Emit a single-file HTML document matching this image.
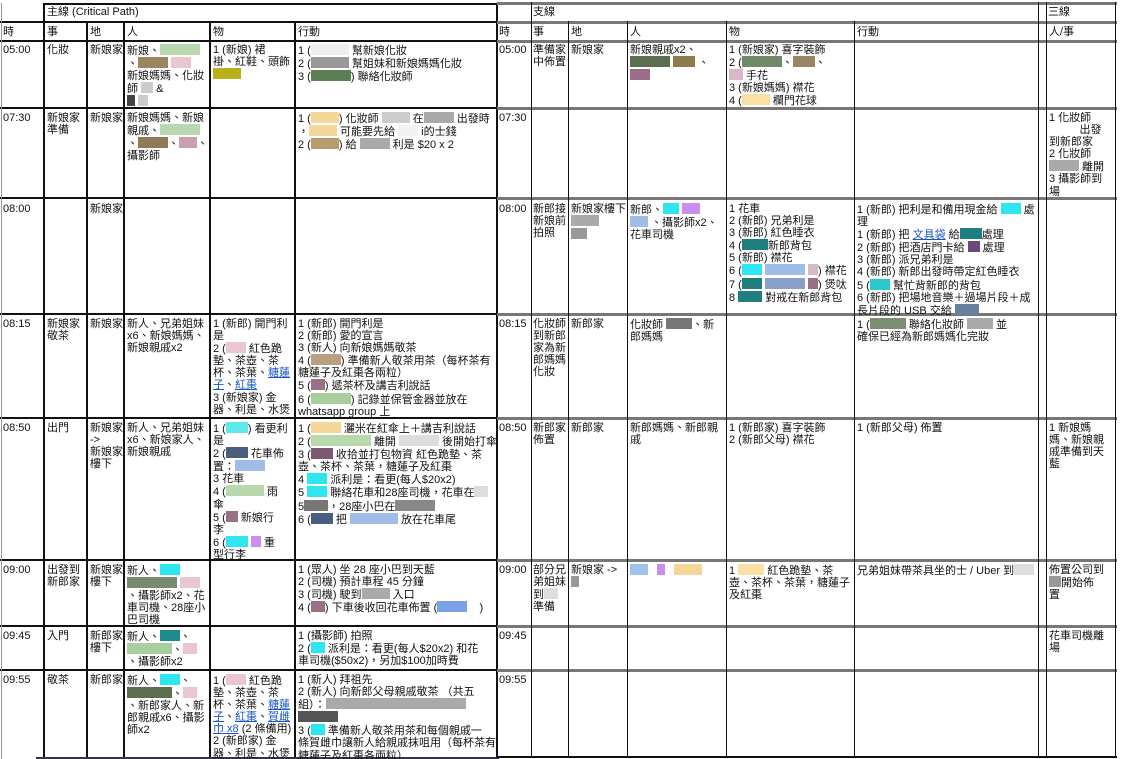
<!DOCTYPE html>
<html><head><meta charset="utf-8"><style>
body{margin:0;background:#fff;}
#p{position:relative;width:1124px;height:759px;overflow:hidden;font-family:"Liberation Sans","Noto Sans CJK TC",sans-serif;font-size:11px;line-height:12.1px;color:#111;}
.c{position:absolute;white-space:nowrap;overflow:hidden;}
.h{position:absolute;height:2px;background:#111;}
.hg{position:absolute;height:3px;background:#777;}
.v{position:absolute;width:2px;background:#111;}
.v1{position:absolute;width:1px;background:#111;}
.b{display:inline-block;height:11px;vertical-align:-1px;}
a{color:#1a56c8;text-decoration:underline;}
</style></head><body><div id="p">
<div class="h" style="left:44px;top:3px;width:455px"></div>
<div class="h" style="left:0;top:21px;width:499px"></div>
<div class="h" style="left:0;top:40px;width:499px"></div>
<div class="h" style="left:0;top:107px;width:499px"></div>
<div class="h" style="left:0;top:197px;width:499px"></div>
<div class="h" style="left:0;top:313px;width:499px"></div>
<div class="h" style="left:0;top:417px;width:499px"></div>
<div class="h" style="left:0;top:559px;width:499px"></div>
<div class="h" style="left:0;top:625px;width:499px"></div>
<div class="h" style="left:0;top:669px;width:499px"></div>
<div class="v1" style="left:1px;top:3px;height:756px;background:#999"></div>
<div class="v" style="left:43px;top:3px;height:756px"></div>
<div class="v" style="left:86px;top:21px;height:738px"></div>
<div class="v" style="left:123px;top:21px;height:738px"></div>
<div class="v" style="left:209px;top:21px;height:738px"></div>
<div class="v" style="left:294px;top:21px;height:738px"></div>
<div class="v" style="left:496px;top:3px;height:756px"></div>
<div class="h" style="left:36px;top:757px;width:463px;background:#334"></div>
<div class="hg" style="left:497px;top:2px;width:620px"></div>
<div class="hg" style="left:497px;top:21px;width:620px"></div>
<div class="hg" style="left:497px;top:40px;width:620px"></div>
<div class="hg" style="left:497px;top:107px;width:620px"></div>
<div class="hg" style="left:497px;top:197px;width:620px"></div>
<div class="hg" style="left:497px;top:313px;width:620px"></div>
<div class="hg" style="left:497px;top:417px;width:620px"></div>
<div class="hg" style="left:497px;top:559px;width:620px"></div>
<div class="hg" style="left:497px;top:625px;width:620px"></div>
<div class="hg" style="left:497px;top:669px;width:620px"></div>
<div class="h" style="left:497px;top:756px;width:620px"></div>
<div class="v1" style="left:531px;top:2px;height:755px"></div>
<div class="v1" style="left:568px;top:21px;height:736px"></div>
<div class="v1" style="left:627px;top:21px;height:736px"></div>
<div class="v1" style="left:726px;top:21px;height:736px"></div>
<div class="v1" style="left:854px;top:21px;height:736px"></div>
<div class="v1" style="left:1038px;top:2px;height:755px"></div>
<div class="v1" style="left:1046px;top:2px;height:755px"></div>
<div class="v1" style="left:1115px;top:2px;height:755px"></div>

<div class="c" style="left:47px;top:6px">主線 (Critical Path)</div>
<div class="c" style="left:3px;top:26px">時</div><div class="c" style="left:47px;top:26px">事</div><div class="c" style="left:90px;top:26px">地</div><div class="c" style="left:127px;top:26px">人</div><div class="c" style="left:213px;top:26px">物</div><div class="c" style="left:298px;top:26px">行動</div>
<div class="c" style="left:533px;top:6px">支線</div><div class="c" style="left:1048px;top:6px">三線</div>
<div class="c" style="left:499px;top:26px">時</div><div class="c" style="left:533px;top:26px">事</div><div class="c" style="left:571px;top:26px">地</div><div class="c" style="left:630px;top:26px">人</div><div class="c" style="left:729px;top:26px">物</div><div class="c" style="left:857px;top:26px">行動</div><div class="c" style="left:1049px;top:26px">人/事</div>

<div class="c" style="left:3px;top:44px">05:00</div>
<div class="c" style="left:47px;top:44px">化妝</div>
<div class="c" style="left:90px;top:44px">新娘家</div>
<div class="c" style="left:127px;top:44px">新娘、<span class="b" style="width:40px;background:#b9d8ad"></span><br>、<span class="b" style="width:30px;background:#9a8560"></span> <span class="b" style="width:20px;background:#eac6d3"></span><br>新娘媽媽、化妝<br>師 <span class="b" style="width:12px;background:#ccc"></span> &amp;<br><span class="b" style="width:8px;background:#444"></span> <span class="b" style="width:10px;background:#ccc"></span></div>
<div class="c" style="left:213px;top:44px">1 (新娘) 裙<br>褂、紅鞋、頭飾<br><span class="b" style="width:28px;background:#b7b21a"></span></div>
<div class="c" style="left:298px;top:44px">1 (<span class="b" style="width:38px;background:#eee"></span> 幫新娘化妝<br>2 (<span class="b" style="width:38px;background:#999"></span> 幫姐妹和新娘媽媽化妝<br>3 (<span class="b" style="width:40px;background:#5b7e55"></span>) 聯絡化妝師</div>

<div class="c" style="left:3px;top:112px">07:30</div>
<div class="c" style="left:47px;top:112px">新娘家<br>準備</div>
<div class="c" style="left:90px;top:112px">新娘家</div>
<div class="c" style="left:127px;top:112px">新娘媽媽、新娘<br>親戚、<span class="b" style="width:40px;background:#b9d8ad"></span><br>、<span class="b" style="width:30px;background:#8e7a58"></span>、<span class="b" style="width:18px;background:#c8a0b0"></span>、<br>攝影師</div>
<div class="c" style="left:298px;top:112px">1 (<span class="b" style="width:28px;background:#f5d79a"></span>) 化妝師 <span class="b" style="width:28px;background:#ccc"></span> 在<span class="b" style="width:30px;background:#aaa"></span> 出發時<br>，<span class="b" style="width:28px;background:#f5d79a"></span> 可能要先給 <span class="b" style="width:20px;background:#f3f3f3"></span> i的士錢<br>2 (<span class="b" style="width:28px;background:#b79d6d"></span>) 給 <span class="b" style="width:30px;background:#aaa"></span> 利是 $20 x 2</div>

<div class="c" style="left:3px;top:203px">08:00</div>
<div class="c" style="left:90px;top:203px">新娘家</div>

<div class="c" style="left:3px;top:318px">08:15</div>
<div class="c" style="left:47px;top:318px">新娘家<br>敬茶</div>
<div class="c" style="left:90px;top:318px">新娘家</div>
<div class="c" style="left:127px;top:318px">新人、兄弟姐妹<br>x6、新娘媽媽、<br>新娘親戚x2</div>
<div class="c" style="left:213px;top:318px">1 (新郎) 開門利<br>是<br>2 (<span class="b" style="width:20px;background:#eac6d3"></span> 紅色跪<br>墊、茶壺、茶<br>杯、茶葉、<a>糖蓮</a><br><a>子</a>、<a>紅棗</a><br>3 (新娘家) 金<br>器、利是、水煲</div>
<div class="c" style="left:298px;top:318px">1 (新郎) 開門利是<br>2 (新郎) 愛的宣言<br>3 (新人) 向新娘媽媽敬茶<br>4 (<span class="b" style="width:30px;background:#b8a080"></span>) 準備新人敬茶用茶（每杯茶有<br>糖蓮子及紅棗各兩粒）<br>5 (<span class="b" style="width:14px;background:#9a7088"></span>) 遞茶杯及講吉利說話<br>6 (<span class="b" style="width:40px;background:#a9cf9e"></span>) 記錄並保管金器並放在<br>whatsapp group 上</div>

<div class="c" style="left:3px;top:422px">08:50</div>
<div class="c" style="left:47px;top:422px">出門</div>
<div class="c" style="left:90px;top:422px">新娘家<br>-&gt;<br>新娘家<br>樓下</div>
<div class="c" style="left:127px;top:422px">新人、兄弟姐妹<br>x6、新娘家人、<br>新娘親戚</div>
<div class="c" style="left:213px;top:422px">1 (<span class="b" style="width:22px;background:#5ee8ee"></span>) 看更利<br>是<br>2 (<span class="b" style="width:22px;background:#4a5e80"></span> 花車佈<br>置：<span class="b" style="width:30px;background:#a0bde8"></span><br>3 花車<br>4 (<span class="b" style="width:38px;background:#b9d8ad"></span> 雨<br>傘<br>5 (<span class="b" style="width:12px;background:#9a7088"></span> 新娘行<br>李<br>6 (<span class="b" style="width:22px;background:#2ee6ef"></span> <span class="b" style="width:10px;background:#c98ef0"></span> 重<br>型行李</div>
<div class="c" style="left:298px;top:422px">1 (<span class="b" style="width:30px;background:#f5d79a"></span> 灑米在紅傘上＋講吉利說話<br>2 (<span class="b" style="width:60px;background:#b9d8ad"></span> 離開 <span class="b" style="width:40px;background:#ddd"></span> 後開始打傘<br>3 (<span class="b" style="width:22px;background:#7a5a70"></span> 收拾並打包物資 紅色跪墊、茶<br>壺、茶杯、茶葉，糖蓮子及紅棗<br>4 <span class="b" style="width:20px;background:#2ee6ef"></span> 派利是：看更(每人$20x2)<br>5 <span class="b" style="width:20px;background:#2ee6ef"></span> 聯絡花車和28座司機，花車在<span class="b" style="width:14px;background:#ddd"></span><br>5<span class="b" style="width:24px;background:#777"></span>，28座小巴在<span class="b" style="width:40px;background:#888"></span><br>6 (<span class="b" style="width:22px;background:#4a5e80"></span> 把 <span class="b" style="width:48px;background:#a0bde8"></span> 放在花車尾</div>

<div class="c" style="left:3px;top:564px">09:00</div>
<div class="c" style="left:47px;top:564px">出發到<br>新郎家</div>
<div class="c" style="left:90px;top:564px">新娘家<br>樓下</div>
<div class="c" style="left:127px;top:564px">新人、<span class="b" style="width:20px;background:#2ee6ef"></span><br><span class="b" style="width:50px;background:#7a8a6a"></span> <span class="b" style="width:20px;background:#eac6d3"></span><br>、攝影師x2、花<br>車司機、28座小<br>巴司機</div>
<div class="c" style="left:298px;top:564px">1 (眾人) 坐 28 座小巴到天藍<br>2 (司機) 預計車程 45 分鐘<br>3 (司機) 駛到<span class="b" style="width:28px;background:#aaa"></span> 入口<br>4 (<span class="b" style="width:14px;background:#9a7088"></span>) 下車後收回花車佈置 (<span class="b" style="width:30px;background:#7aa0e8"></span> &nbsp; &nbsp;)</div>

<div class="c" style="left:3px;top:630px">09:45</div>
<div class="c" style="left:47px;top:630px">入門</div>
<div class="c" style="left:90px;top:630px">新郎家<br>樓下</div>
<div class="c" style="left:127px;top:630px">新人、<span class="b" style="width:20px;background:#1f8c8c"></span>、<br><span class="b" style="width:45px;background:#a9cf9e"></span>、<span class="b" style="width:14px;background:#eac6d3"></span><br>、攝影師x2</div>
<div class="c" style="left:298px;top:630px">1 (攝影師) 拍照<br>2 (<span class="b" style="width:14px;background:#2ee6ef"></span> 派利是：看更(每人$20x2) 和花<br>車司機($50x2)，另加$100加時費</div>

<div class="c" style="left:3px;top:674px">09:55</div>
<div class="c" style="left:47px;top:674px">敬茶</div>
<div class="c" style="left:90px;top:674px">新郎家</div>
<div class="c" style="left:127px;top:674px">新人、<span class="b" style="width:20px;background:#2ee6ef"></span>、<br><span class="b" style="width:45px;background:#5b6e50"></span>、<span class="b" style="width:14px;background:#eac6d3"></span><br>、新郎家人、新<br>郎親戚x6、攝影<br>師x2</div>
<div class="c" style="left:213px;top:674px">1 (<span class="b" style="width:20px;background:#eac6d3"></span> 紅色跪<br>墊、茶壺、茶<br>杯、茶葉、<a>糖蓮</a><br><a>子</a>、<a>紅棗</a>、<a>賀雌</a><br><a>巾 x8</a> (2 條備用)<br>2 (新郎家) 金<br>器、利是、水煲</div>
<div class="c" style="left:298px;top:674px">1 (新人) 拜祖先<br>2 (新人) 向新郎父母親戚敬茶 （共五<br>組）：<span class="b" style="width:140px;background:#aaa"></span><br><span class="b" style="width:40px;background:#555"></span><br>3 (<span class="b" style="width:14px;background:#2ee6ef"></span> 準備新人敬茶用茶和每個親戚一<br>條賀雌巾讓新人給親戚抹咀用（每杯茶有<br>糖蓮子及紅棗各兩粒）</div>

<div class="c" style="left:499px;top:44px">05:00</div>
<div class="c" style="left:533px;top:44px">準備家<br>中佈置</div>
<div class="c" style="left:571px;top:44px">新娘家</div>
<div class="c" style="left:630px;top:44px">新娘親戚x2、<br><span class="b" style="width:40px;background:#5b6e50"></span> <span class="b" style="width:22px;background:#8e7a4a"></span> 、<br><span class="b" style="width:20px;background:#9a6e88"></span></div>
<div class="c" style="left:729px;top:44px">1 (新娘家) 喜字裝飾<br>2 (<span class="b" style="width:40px;background:#6e8a66"></span>、<span class="b" style="width:22px;background:#9a8560"></span>、<br><span class="b" style="width:14px;background:#d8b8c8"></span> 手花<br>3 (新娘媽媽) 襟花<br>4 (<span class="b" style="width:28px;background:#fbe0a6"></span> 欄門花球</div>

<div class="c" style="left:499px;top:112px">07:30</div>
<div class="c" style="left:1049px;top:112px">1 化妝師<br>&nbsp; &nbsp; &nbsp; &nbsp; &nbsp; 出發<br>到新郎家<br>2 化妝師<br><span class="b" style="width:30px;background:#aaa"></span> 離開<br>3 攝影師到<br>場</div>

<div class="c" style="left:499px;top:203px">08:00</div>
<div class="c" style="left:533px;top:203px">新郎接<br>新娘前<br>拍照</div>
<div class="c" style="left:571px;top:203px">新娘家樓下<br><span class="b" style="width:28px;background:#aaa"></span><br><span class="b" style="width:16px;background:#999"></span></div>
<div class="c" style="left:630px;top:203px">新郎、<span class="b" style="width:16px;background:#2ee6ef"></span> <span class="b" style="width:18px;background:#c98ef0"></span><br><span class="b" style="width:18px;background:#a0bde8"></span> 、攝影師x2、<br>花車司機</div>
<div class="c" style="left:729px;top:203px">1 花車<br>2 (新郎) 兄弟利是<br>3 (新郎) 紅色睡衣<br>4 (<span class="b" style="width:26px;background:#1f7f80"></span>新郎背包<br>5 (新郎) 襟花<br>6 (<span class="b" style="width:20px;background:#2ee6ef"></span> <span class="b" style="width:40px;background:#a0bde8"></span> <span class="b" style="width:10px;background:#d8b8c8"></span>) 襟花<br>7 (<span class="b" style="width:20px;background:#1f7f80"></span> <span class="b" style="width:40px;background:#8aa0c8"></span> <span class="b" style="width:10px;background:#9a7088"></span>) 煲呔<br>8 <span class="b" style="width:24px;background:#1f7f80"></span> 對戒在新郎背包</div>
<div class="c" style="left:857px;top:203px">1 (新郎) 把利是和備用現金給 <span class="b" style="width:20px;background:#2ee6ef"></span> 處<br>理<br>1 (新郎) 把 <a>文具袋</a> 給<span class="b" style="width:22px;background:#1f7f80"></span>處理<br>2 (新郎) 把酒店門卡給 <span class="b" style="width:12px;background:#6a4a7a"></span> 處理<br>3 (新郎) 派兄弟利是<br>4 (新郎) 新郎出發時帶定紅色睡衣<br>5 (<span class="b" style="width:20px;background:#2ec8cc"></span> 幫忙背新郎的背包<br>6 (新郎) 把場地音樂＋過場片段＋成<br>長片段的 USB 交給 <span class="b" style="width:24px;background:#6a80a0"></span></div>

<div class="c" style="left:499px;top:318px">08:15</div>
<div class="c" style="left:533px;top:318px">化妝師<br>到新郎<br>家為新<br>郎媽媽<br>化妝</div>
<div class="c" style="left:571px;top:318px">新郎家</div>
<div class="c" style="left:630px;top:318px">化妝師 <span class="b" style="width:26px;background:#777"></span>、新<br>郎媽媽</div>
<div class="c" style="left:857px;top:318px">1 (<span class="b" style="width:36px;background:#7a9070"></span> 聯絡化妝師 <span class="b" style="width:26px;background:#aaa"></span> 並<br>確保已經為新郎媽媽化完妝</div>

<div class="c" style="left:499px;top:422px">08:50</div>
<div class="c" style="left:533px;top:422px">新郎家<br>佈置</div>
<div class="c" style="left:571px;top:422px">新郎家</div>
<div class="c" style="left:630px;top:422px">新郎媽媽、新郎親<br>戚</div>
<div class="c" style="left:729px;top:422px">1 (新郎家) 喜字裝飾<br>2 (新郎父母) 襟花</div>
<div class="c" style="left:857px;top:422px">1 (新郎父母) 佈置</div>
<div class="c" style="left:1049px;top:422px">1 新娘媽<br>媽、新娘親<br>戚準備到天<br>藍</div>

<div class="c" style="left:499px;top:564px">09:00</div>
<div class="c" style="left:533px;top:564px">部分兄<br>弟姐妹<br>到<span class="b" style="width:14px;background:#ddd"></span><br>準備</div>
<div class="c" style="left:571px;top:564px">新娘家 -&gt;<br><span class="b" style="width:8px;background:#999"></span></div>
<div class="c" style="left:630px;top:564px"><span class="b" style="width:18px;background:#a0c4ec"></span> &nbsp; <span class="b" style="width:8px;background:#c98ef0"></span> &nbsp; <span class="b" style="width:28px;background:#f5d79a"></span></div>
<div class="c" style="left:729px;top:564px">1 <span class="b" style="width:26px;background:#fbe0a6"></span> 紅色跪墊、茶<br>壺、茶杯、茶葉，糖蓮子<br>及紅棗</div>
<div class="c" style="left:857px;top:564px">兄弟姐妹帶茶具坐的士 / Uber 到<span class="b" style="width:20px;background:#ddd"></span></div>
<div class="c" style="left:1049px;top:564px">佈置公司到<br><span class="b" style="width:12px;background:#999"></span>開始佈<br>置</div>

<div class="c" style="left:499px;top:630px">09:45</div>
<div class="c" style="left:1049px;top:630px">花車司機離<br>場</div>
<div class="c" style="left:499px;top:674px">09:55</div>
</div></body></html>
